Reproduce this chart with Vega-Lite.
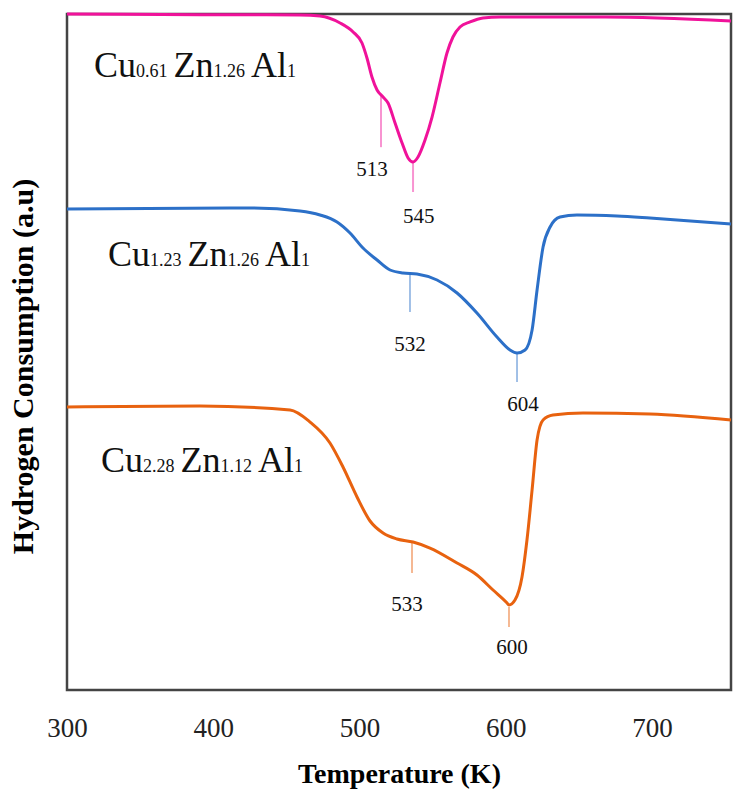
{
  "$schema": "https://vega.github.io/schema/vega-lite/v6.json",
  "width": 664,
  "height": 676,
  "autosize": {"type": "none"},
  "padding": {"left": 67, "top": 14, "right": 13, "bottom": 120},
  "background": "white",
  "config": {
    "view": {"stroke": "#444444", "strokeWidth": 2.5},
    "font": "Liberation Serif"
  },
  "datasets": {
    "curves": [
      {"sample": "Cu0.61Zn1.26Al1", "T": 300, "H": 100},
      {"sample": "Cu0.61Zn1.26Al1", "T": 390.9, "H": 99.9},
      {"sample": "Cu0.61Zn1.26Al1", "T": 459.3, "H": 99.85},
      {"sample": "Cu0.61Zn1.26Al1", "T": 473, "H": 99.7},
      {"sample": "Cu0.61Zn1.26Al1", "T": 486.7, "H": 98.67},
      {"sample": "Cu0.61Zn1.26Al1", "T": 495.6, "H": 97.34},
      {"sample": "Cu0.61Zn1.26Al1", "T": 501.7, "H": 95.71},
      {"sample": "Cu0.61Zn1.26Al1", "T": 505.1, "H": 93.49},
      {"sample": "Cu0.61Zn1.26Al1", "T": 508.5, "H": 90.68},
      {"sample": "Cu0.61Zn1.26Al1", "T": 512, "H": 88.76},
      {"sample": "Cu0.61Zn1.26Al1", "T": 516.1, "H": 87.72},
      {"sample": "Cu0.61Zn1.26Al1", "T": 519.5, "H": 86.83},
      {"sample": "Cu0.61Zn1.26Al1", "T": 524.3, "H": 83.88},
      {"sample": "Cu0.61Zn1.26Al1", "T": 529.1, "H": 80.92},
      {"sample": "Cu0.61Zn1.26Al1", "T": 533.2, "H": 78.7},
      {"sample": "Cu0.61Zn1.26Al1", "T": 536.6, "H": 78.11},
      {"sample": "Cu0.61Zn1.26Al1", "T": 540, "H": 78.85},
      {"sample": "Cu0.61Zn1.26Al1", "T": 544.8, "H": 81.36},
      {"sample": "Cu0.61Zn1.26Al1", "T": 549.6, "H": 84.76},
      {"sample": "Cu0.61Zn1.26Al1", "T": 555, "H": 89.79},
      {"sample": "Cu0.61Zn1.26Al1", "T": 559.8, "H": 94.23},
      {"sample": "Cu0.61Zn1.26Al1", "T": 563.9, "H": 96.6},
      {"sample": "Cu0.61Zn1.26Al1", "T": 568.7, "H": 98.08},
      {"sample": "Cu0.61Zn1.26Al1", "T": 575.6, "H": 98.82},
      {"sample": "Cu0.61Zn1.26Al1", "T": 584.4, "H": 99.41},
      {"sample": "Cu0.61Zn1.26Al1", "T": 596.1, "H": 99.56},
      {"sample": "Cu0.61Zn1.26Al1", "T": 667.9, "H": 99.56},
      {"sample": "Cu0.61Zn1.26Al1", "T": 754, "H": 98.96},

      {"sample": "Cu1.23Zn1.26Al1", "T": 300, "H": 71.15},
      {"sample": "Cu1.23Zn1.26Al1", "T": 425.1, "H": 71.3},
      {"sample": "Cu1.23Zn1.26Al1", "T": 459.3, "H": 70.86},
      {"sample": "Cu1.23Zn1.26Al1", "T": 473, "H": 70.27},
      {"sample": "Cu1.23Zn1.26Al1", "T": 484.6, "H": 69.23},
      {"sample": "Cu1.23Zn1.26Al1", "T": 493.5, "H": 67.6},
      {"sample": "Cu1.23Zn1.26Al1", "T": 502.4, "H": 65.38},
      {"sample": "Cu1.23Zn1.26Al1", "T": 512, "H": 63.61},
      {"sample": "Cu1.23Zn1.26Al1", "T": 520.9, "H": 62.13},
      {"sample": "Cu1.23Zn1.26Al1", "T": 529.7, "H": 61.69},
      {"sample": "Cu1.23Zn1.26Al1", "T": 539.3, "H": 61.54},
      {"sample": "Cu1.23Zn1.26Al1", "T": 553, "H": 60.65},
      {"sample": "Cu1.23Zn1.26Al1", "T": 566.7, "H": 58.73},
      {"sample": "Cu1.23Zn1.26Al1", "T": 580.3, "H": 55.77},
      {"sample": "Cu1.23Zn1.26Al1", "T": 594, "H": 52.22},
      {"sample": "Cu1.23Zn1.26Al1", "T": 602.9, "H": 50.3},
      {"sample": "Cu1.23Zn1.26Al1", "T": 607.7, "H": 49.85},
      {"sample": "Cu1.23Zn1.26Al1", "T": 613.2, "H": 50.3},
      {"sample": "Cu1.23Zn1.26Al1", "T": 618, "H": 53.25},
      {"sample": "Cu1.23Zn1.26Al1", "T": 621.4, "H": 59.17},
      {"sample": "Cu1.23Zn1.26Al1", "T": 625.5, "H": 65.53},
      {"sample": "Cu1.23Zn1.26Al1", "T": 630.3, "H": 68.49},
      {"sample": "Cu1.23Zn1.26Al1", "T": 637.1, "H": 69.97},
      {"sample": "Cu1.23Zn1.26Al1", "T": 648.7, "H": 70.27},
      {"sample": "Cu1.23Zn1.26Al1", "T": 676.1, "H": 70.12},
      {"sample": "Cu1.23Zn1.26Al1", "T": 698.6, "H": 69.82},
      {"sample": "Cu1.23Zn1.26Al1", "T": 754, "H": 68.93},

      {"sample": "Cu2.28Zn1.12Al1", "T": 300, "H": 41.86},
      {"sample": "Cu2.28Zn1.12Al1", "T": 390.9, "H": 42.01},
      {"sample": "Cu2.28Zn1.12Al1", "T": 452.5, "H": 41.42},
      {"sample": "Cu2.28Zn1.12Al1", "T": 466.2, "H": 39.64},
      {"sample": "Cu2.28Zn1.12Al1", "T": 479.8, "H": 36.54},
      {"sample": "Cu2.28Zn1.12Al1", "T": 488.7, "H": 32.99},
      {"sample": "Cu2.28Zn1.12Al1", "T": 498.3, "H": 28.55},
      {"sample": "Cu2.28Zn1.12Al1", "T": 507.2, "H": 25.0},
      {"sample": "Cu2.28Zn1.12Al1", "T": 516.1, "H": 23.22},
      {"sample": "Cu2.28Zn1.12Al1", "T": 525.6, "H": 22.34},
      {"sample": "Cu2.28Zn1.12Al1", "T": 536.6, "H": 21.89},
      {"sample": "Cu2.28Zn1.12Al1", "T": 548.2, "H": 21.0},
      {"sample": "Cu2.28Zn1.12Al1", "T": 566.7, "H": 18.79},
      {"sample": "Cu2.28Zn1.12Al1", "T": 580.3, "H": 17.01},
      {"sample": "Cu2.28Zn1.12Al1", "T": 591.3, "H": 14.79},
      {"sample": "Cu2.28Zn1.12Al1", "T": 600.9, "H": 12.87},
      {"sample": "Cu2.28Zn1.12Al1", "T": 602.2, "H": 12.57},
      {"sample": "Cu2.28Zn1.12Al1", "T": 606.3, "H": 13.31},
      {"sample": "Cu2.28Zn1.12Al1", "T": 611.1, "H": 16.72},
      {"sample": "Cu2.28Zn1.12Al1", "T": 614.5, "H": 22.19},
      {"sample": "Cu2.28Zn1.12Al1", "T": 618, "H": 29.59},
      {"sample": "Cu2.28Zn1.12Al1", "T": 621.4, "H": 36.98},
      {"sample": "Cu2.28Zn1.12Al1", "T": 625.5, "H": 39.94},
      {"sample": "Cu2.28Zn1.12Al1", "T": 632.3, "H": 40.68},
      {"sample": "Cu2.28Zn1.12Al1", "T": 652.8, "H": 40.98},
      {"sample": "Cu2.28Zn1.12Al1", "T": 698.6, "H": 40.83},
      {"sample": "Cu2.28Zn1.12Al1", "T": 754, "H": 39.94}
    ],
    "markers": [
      {"sample": "Cu0.61Zn1.26Al1", "T": 514.7, "top": 88.0, "bottom": 80.3},
      {"sample": "Cu0.61Zn1.26Al1", "T": 536.6, "top": 77.96, "bottom": 73.67},
      {"sample": "Cu1.23Zn1.26Al1", "T": 534.5, "top": 61.39, "bottom": 55.92},
      {"sample": "Cu1.23Zn1.26Al1", "T": 607.7, "top": 49.85, "bottom": 45.56},
      {"sample": "Cu2.28Zn1.12Al1", "T": 535.9, "top": 21.75, "bottom": 17.31},
      {"sample": "Cu2.28Zn1.12Al1", "T": 602.2, "top": 12.28, "bottom": 9.32}
    ],
    "peaks": [
      {"label": "513", "T": 508.5, "H": 76.92},
      {"label": "545", "T": 540.5, "H": 69.97},
      {"label": "532", "T": 534.5, "H": 51.04},
      {"label": "604", "T": 611.8, "H": 42.16},
      {"label": "533", "T": 532.5, "H": 12.57},
      {"label": "600", "T": 604.3, "H": 6.21}
    ],
    "formula": [
      {"kind": "main", "text": "Cu", "T": 318.5, "H": 90.68},
      {"kind": "sub", "text": "0.61", "T": 347.2, "H": 90.68},
      {"kind": "main", "text": "Zn", "T": 372.8, "H": 90.68},
      {"kind": "sub", "text": "1.26", "T": 400.2, "H": 90.68},
      {"kind": "main", "text": "Al", "T": 425.8, "H": 90.68},
      {"kind": "sub", "text": "1", "T": 450.4, "H": 90.68},
      {"kind": "main", "text": "Cu", "T": 328.0, "H": 62.72},
      {"kind": "sub", "text": "1.23", "T": 356.8, "H": 62.72},
      {"kind": "main", "text": "Zn", "T": 382.4, "H": 62.72},
      {"kind": "sub", "text": "1.26", "T": 409.7, "H": 62.72},
      {"kind": "main", "text": "Al", "T": 435.4, "H": 62.72},
      {"kind": "sub", "text": "1", "T": 460.0, "H": 62.72},
      {"kind": "main", "text": "Cu", "T": 323.2, "H": 32.25},
      {"kind": "sub", "text": "2.28", "T": 352.0, "H": 32.25},
      {"kind": "main", "text": "Zn", "T": 377.6, "H": 32.25},
      {"kind": "sub", "text": "1.12", "T": 405.0, "H": 32.25},
      {"kind": "main", "text": "Al", "T": 430.6, "H": 32.25},
      {"kind": "sub", "text": "1", "T": 455.2, "H": 32.25}
    ]
  },
  "layer": [
    {
      "data": {"name": "curves"},
      "mark": {"type": "line", "interpolate": "monotone", "strokeWidth": 3},
      "encoding": {
        "x": {
          "field": "T", "type": "quantitative", "title": "Temperature (K)",
          "scale": {"domain": [300, 754], "nice": false, "zero": false},
          "axis": {
            "values": [300, 400, 500, 600, 700], "ticks": false, "domain": false, "grid": false,
            "labelFlush": false, "labelFont": "Liberation Serif", "labelFontSize": 27, "labelColor": "#222",
            "labelPadding": 25, "titleFont": "Liberation Serif", "titleFontSize": 28, "titleFontWeight": "bold",
            "titleColor": "#000", "titlePadding": 19
          }
        },
        "y": {
          "field": "H", "type": "quantitative", "title": "Hydrogen Consumption (a.u)",
          "scale": {"domain": [0, 100], "nice": false},
          "axis": {
            "ticks": false, "domain": false, "grid": false, "labels": false,
            "titleFont": "Liberation Serif", "titleFontSize": 30, "titleFontWeight": "bold",
            "titleColor": "#000", "titlePadding": 29, "titleY": 352
          }
        },
        "color": {
          "field": "sample", "type": "nominal", "legend": null,
          "scale": {"domain": ["Cu0.61Zn1.26Al1", "Cu1.23Zn1.26Al1", "Cu2.28Zn1.12Al1"], "range": ["#f0129a", "#2c70c8", "#e8620f"]}
        }
      }
    },
    {
      "data": {"name": "markers"},
      "mark": {"type": "rule", "strokeWidth": 2, "opacity": 0.45},
      "encoding": {
        "x": {"field": "T", "type": "quantitative"},
        "y": {"field": "top", "type": "quantitative"},
        "y2": {"field": "bottom"},
        "color": {"field": "sample", "type": "nominal", "legend": null}
      }
    },
    {
      "data": {"name": "peaks"},
      "mark": {"type": "text", "font": "Liberation Serif", "fontSize": 21, "color": "#111", "align": "center", "baseline": "middle"},
      "encoding": {
        "x": {"field": "T", "type": "quantitative"},
        "y": {"field": "H", "type": "quantitative"},
        "text": {"field": "label"}
      }
    },
    {
      "data": {"name": "formula"},
      "transform": [{"filter": "datum.kind === 'main'"}],
      "mark": {"type": "text", "font": "Liberation Serif", "fontSize": 36, "color": "#111", "align": "left", "baseline": "alphabetic"},
      "encoding": {
        "x": {"field": "T", "type": "quantitative"},
        "y": {"field": "H", "type": "quantitative"},
        "text": {"field": "text"}
      }
    },
    {
      "data": {"name": "formula"},
      "transform": [{"filter": "datum.kind === 'sub'"}],
      "mark": {"type": "text", "font": "Liberation Serif", "fontSize": 18, "color": "#111", "align": "left", "baseline": "alphabetic"},
      "encoding": {
        "x": {"field": "T", "type": "quantitative"},
        "y": {"field": "H", "type": "quantitative"},
        "text": {"field": "text"}
      }
    }
  ]
}
